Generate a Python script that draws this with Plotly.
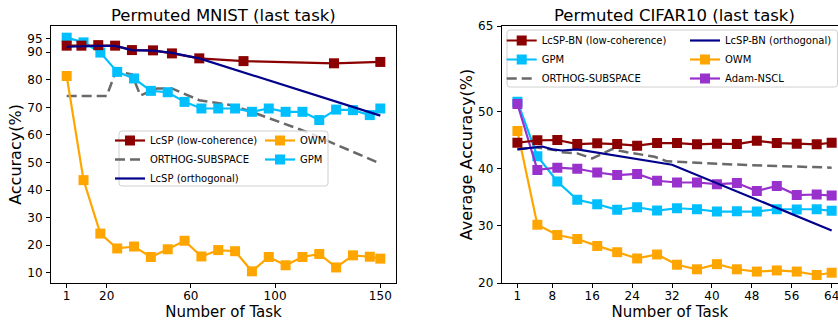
import plotly.graph_objects as go

FONT = "DejaVu Sans"
W, H = 838, 322

# ---------------- Permuted MNIST (left) ----------------
mnist_tasks = [1, 9, 17, 25, 33, 41, 49, 57, 65, 73, 81, 89, 97, 105, 113, 121, 129, 137, 145, 150]
mnist_gpm = [95.3, 93.6, 89.9, 82.9, 80.5, 76.0, 75.5, 72.0, 69.6, 69.6, 69.6, 68.4, 69.6, 68.4, 68.4,
             65.4, 69.2, 69.0, 67.2, 69.6]
mnist_owm = [81.4, 43.6, 24.2, 18.8, 19.5, 15.7, 18.5, 21.6, 15.9, 18.2, 17.8, 10.5, 15.7, 12.7, 15.7,
             16.8, 11.9, 16.3, 15.8, 15.1]
mnist_lc_tasks = [1, 8, 16, 24, 32, 42, 51, 64, 85, 128, 150]
mnist_lcsp_low = [92.4, 92.4, 92.6, 92.4, 90.8, 90.7, 89.6, 87.8, 86.8, 86.0, 86.5]
mnist_orth_tasks = [1, 8, 16, 24, 32, 42, 51, 64, 150]
mnist_lcsp_orth = [92.0, 92.2, 92.3, 92.3, 90.8, 90.6, 89.8, 87.8, 67.0]
mnist_os_tasks = [1, 20, 24, 28, 32, 36, 44, 51, 64, 80, 91, 115, 150]
mnist_orthog_subspace = [74.1, 74.1, 82.3, 82.6, 82.0, 74.3, 76.9, 76.9, 72.6, 70.7, 67.8, 61.1, 49.6]
mnist_xticks = [1, 20, 60, 100, 150]
mnist_yticks = [10, 20, 30, 40, 50, 60, 70, 80, 90, 95]

# ---------------- Permuted CIFAR10 (right) ----------------
cifar_tasks = [1, 5, 9, 13, 17, 21, 25, 29, 33, 37, 41, 45, 49, 53, 57, 61, 64]
cifar_lcsp_low = [44.56, 44.98, 45.04, 44.33, 44.46, 44.33, 44.04, 44.5, 44.5, 44.28, 44.39, 44.33,
                  44.9, 44.5, 44.39, 44.28, 44.56]
cifar_gpm = [51.75, 42.2, 37.77, 34.56, 33.79, 32.81, 33.26, 32.68, 33.09, 32.91, 32.51, 32.56,
             32.51, 32.91, 32.86, 32.91, 32.63]
cifar_owm = [46.6, 30.2, 28.4, 27.7, 26.5, 25.4, 24.3, 25.0, 23.2, 22.4, 23.3, 22.4, 22.0, 22.2,
             22.0, 21.4, 21.8]
cifar_nscl = [51.35, 39.8, 40.2, 40.0, 39.35, 38.9, 39.1, 37.9, 37.6, 37.6, 37.3, 37.5, 36.1, 37.0,
              35.4, 35.5, 35.3]
cifar_orth_tasks = [1, 6, 8, 10, 13, 32, 64]
cifar_lcsp_orth = [43.4, 43.9, 43.4, 43.2, 43.4, 40.7, 29.2]
cifar_os_tasks = [1, 4.5, 8.5, 10, 13, 16, 20, 23, 28.5, 31, 47, 64]
cifar_orthog_subspace = [43.4, 43.75, 43.3, 42.9, 42.7, 41.8, 43.45, 42.9, 42.1, 41.3, 40.65, 40.2]
cifar_xticks = [1, 8, 16, 24, 32, 40, 48, 56, 64]
cifar_yticks = [20, 30, 40, 50, 65]

DARKRED = "#8B0000"
NAVY = "#00008B"
GRAY = "#696969"
ORANGE = "#FFA500"
CYAN = "#00BFFF"
PURPLE = "#9932CC"


def px(x):
    return x / W


def py(y):
    return 1 - y / H


fig = go.Figure()


def add(x, y, name, color, axis, legend, rank, marker=True, dash=None, width=2.2):
    xa, ya = axis
    fig.add_trace(go.Scatter(
        x=x, y=y, name=name, xaxis=xa, yaxis=ya,
        mode="lines+markers" if marker else "lines",
        line=dict(color=color, width=width, dash=dash),
        marker=dict(symbol="square", size=10, color=color) if marker else None,
        legend=legend, legendrank=rank, showlegend=True,
    ))


L = ("x", "y")
R = ("x2", "y2")

# left plot (draw order bottom -> top)
add(mnist_os_tasks, mnist_orthog_subspace, "ORTHOG-SUBSPACE", GRAY, L, "legend", 2,
    marker=False, dash="10px,5px", width=2.5)
add(mnist_tasks, mnist_owm, "OWM", ORANGE, L, "legend2", 1)
add(mnist_tasks, mnist_gpm, "GPM", CYAN, L, "legend2", 2)
add(mnist_lc_tasks, mnist_lcsp_low, "LcSP (low-coherence)", DARKRED, L, "legend", 1)
add(mnist_orth_tasks, mnist_lcsp_orth, "LcSP (orthogonal)", NAVY, L, "legend", 3, marker=False)

# right plot
add(cifar_os_tasks, cifar_orthog_subspace, "ORTHOG-SUBSPACE", GRAY, R, "legend3", 3,
    marker=False, dash="10px,5px", width=2.5)
add(cifar_tasks, cifar_owm, "OWM", ORANGE, R, "legend4", 2)
add(cifar_tasks, cifar_gpm, "GPM", CYAN, R, "legend3", 2)
add(cifar_tasks, cifar_nscl, "Adam-NSCL", PURPLE, R, "legend4", 3)
add(cifar_tasks, cifar_lcsp_low, "LcSP-BN (low-coherence)", DARKRED, R, "legend3", 1)
add(cifar_orth_tasks, cifar_lcsp_orth, "LcSP-BN (orthogonal)", NAVY, R, "legend4", 1, marker=False)

tickfont = dict(family=FONT, size=12, color="black")
axis_common = dict(showline=True, linecolor="black", linewidth=1, ticks="outside", ticklen=4,
                   tickwidth=1, tickcolor="black", showgrid=False, zeroline=False,
                   tickfont=tickfont, ticklabeloverflow="allow", automargin=False)
ydom = [py(283), py(26)]

legend_common = dict(bgcolor="rgba(0,0,0,0)", borderwidth=0, xanchor="left", yanchor="top",
                     font=dict(family=FONT, size=10, color="black"), orientation="v",
                     traceorder="normal")


def rounded_box(x0, y0, x1, y1, r=3):
    rx, ry = r / W, r / H
    X0, X1 = px(x0), px(x1)
    Y0, Y1 = py(y1), py(y0)  # bottom, top in paper
    return (f"M{X0 + rx},{Y1} L{X1 - rx},{Y1} Q{X1},{Y1} {X1},{Y1 - ry} "
            f"L{X1},{Y0 + ry} Q{X1},{Y0} {X1 - rx},{Y0} L{X0 + rx},{Y0} "
            f"Q{X0},{Y0} {X0},{Y0 + ry} L{X0},{Y1 - ry} Q{X0},{Y1} {X0 + rx},{Y1} Z")


fig.update_layout(
    width=W, height=H, autosize=False,
    margin=dict(l=0, r=0, t=0, b=0, autoexpand=False),
    paper_bgcolor="white", plot_bgcolor="white",
    font=dict(family=FONT, size=12, color="black"),
    xaxis=dict(domain=[px(51), px(396)], range=[-6.45, 157.45], tickvals=mnist_xticks,
               mirror=True, anchor="y", ticklabelstandoff=-2,
               title=dict(text="Number of Task", font=dict(family=FONT, size=15), standoff=4),
               **axis_common),
    yaxis=dict(domain=ydom, range=[6.26, 99.54], tickvals=mnist_yticks, mirror=True, anchor="x",
               ticklabelstandoff=1,
               title=dict(text="Accuracy(%)", font=dict(family=FONT, size=16), standoff=1),
               **axis_common),
    xaxis2=dict(domain=[px(501.7), 1.0], range=[-2.15, 65.27], tickvals=cifar_xticks,
                mirror=True, anchor="y2", ticklabelstandoff=-2,
                title=dict(text="Number of Task", font=dict(family=FONT, size=15), standoff=4),
                **axis_common),
    yaxis2=dict(domain=ydom, range=[20, 65], tickvals=cifar_yticks, mirror=False, anchor="x2",
                ticklabelstandoff=1,
                title=dict(text="Average Accuracy(%)", font=dict(family=FONT, size=16), standoff=1),
                **axis_common),
    legend=dict(x=px(110), y=py(126), **legend_common),
    legend2=dict(x=px(260), y=py(126), **legend_common),
    legend3=dict(x=px(501.7), y=py(26), **legend_common),
    legend4=dict(x=px(685), y=py(26), **legend_common),
    shapes=[
        dict(type="path", xref="paper", yref="paper", path=rounded_box(119, 131, 328, 186),
             line=dict(color="#d0d0d0", width=1), fillcolor="rgba(255,255,255,0.8)", layer="above"),
        dict(type="path", xref="paper", yref="paper", path=rounded_box(507, 30, 837.5, 87),
             line=dict(color="#d0d0d0", width=1), fillcolor="rgba(255,255,255,0.8)", layer="above"),
    ],
    annotations=[
        dict(text="Permuted MNIST (last task)", xref="paper", yref="paper", x=px(223.5), y=py(15),
             xanchor="center", yanchor="middle", showarrow=False,
             font=dict(family=FONT, size=16.5, color="black")),
        dict(text="Permuted CIFAR10 (last task)", xref="paper", yref="paper", x=px(674.4), y=py(15),
             xanchor="center", yanchor="middle", showarrow=False,
             font=dict(family=FONT, size=16.5, color="black")),
    ],
)

fig.write_html("out.html", config={"displayModeBar": False},
               post_script="document.body.style.margin='0px';document.body.style.padding='0px';")
